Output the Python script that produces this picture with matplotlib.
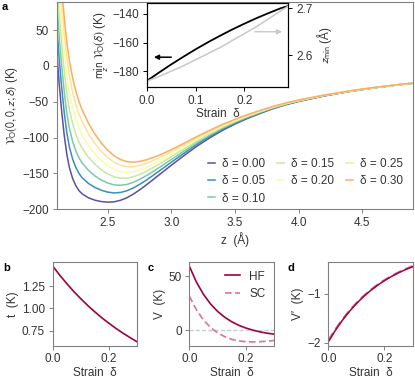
import numpy as np
import matplotlib
matplotlib.use('Agg')
import matplotlib.pyplot as plt

plt.rcParams['font.family'] = ['Liberation Sans', 'DejaVu Sans']
plt.rcParams['mathtext.fontset'] = 'stixsans'
plt.rcParams['font.size'] = 8.5
plt.rcParams['axes.unicode_minus'] = True

W, H = 415, 383

# panel a: potential vs height for several strains
z = [2.10, 2.12, 2.14, 2.16, 2.18, 2.20, 2.225, 2.25, 2.275, 2.30, 2.35, 2.40, 2.45,
     2.50, 2.55, 2.60, 2.65, 2.70, 2.75, 2.80, 2.85, 2.90, 2.95, 3.00, 3.10, 3.20,
     3.30, 3.40, 3.50, 3.60, 3.70, 3.80, 3.90, 4.00, 4.20, 4.40, 4.60, 4.80, 4.90]
v_000 = [21, -26, -65, -98, -124, -142, -157, -167, -174, -178.5, -184, -187.3, -189.2,
         -190, -189.6, -187.5, -184, -179, -173, -166.5, -159.5, -152.5, -145.5, -138.5,
         -125, -112, -100.5, -90, -81, -73, -66, -59.5, -54, -49.5, -41.8, -35.5, -30.3,
         -25.9, -24.0]
v_005 = [57.5, 8.8, -31.8, -66.4, -93.9, -113.3, -129.9, -141.5, -150.0, -155.9, -164.0,
         -169.5, -173.4, -176.0, -177.2, -176.5, -174.2, -170.3, -165.3, -159.7, -153.5,
         -147.1, -140.8, -134.3, -121.7, -109.4, -98.4, -88.4, -79.7, -72.0, -65.2, -58.9,
         -53.5, -49.1, -41.6, -35.4, -30.2, -25.8, -24.0]
v_010 = [90.7, 40.5, -1.7, -37.6, -66.5, -87.2, -105.3, -118.4, -128.2, -135.4, -145.7,
         -153.4, -159.1, -163.3, -165.9, -166.5, -165.4, -162.5, -158.3, -153.5, -148.0,
         -142.3, -136.4, -130.5, -118.7, -107.0, -96.6, -86.9, -78.6, -71.1, -64.5, -58.3,
         -53.1, -48.8, -41.3, -35.2, -30.1, -25.8, -23.9]
v_015 = [123.9, 72.1, 28.5, -8.9, -39.1, -61.0, -80.8, -95.2, -106.4, -114.8, -127.5,
         -137.2, -144.8, -150.6, -154.6, -156.5, -156.5, -154.6, -151.4, -147.3, -142.5,
         -137.4, -132.1, -126.6, -115.7, -104.7, -94.7, -85.5, -77.4, -70.2, -63.8, -57.8,
         -52.6, -48.4, -41.1, -35.1, -30.0, -25.7, -23.9]
v_020 = [153.8, 100.6, 55.6, 17.0, -14.4, -37.5, -58.6, -74.3, -86.7, -96.3, -111.1,
         -122.7, -131.9, -139.2, -144.5, -147.5, -148.5, -147.5, -145.1, -141.7, -137.5,
         -133.0, -128.2, -123.2, -113.0, -102.5, -93.0, -84.1, -76.4, -69.4, -63.1, -57.3,
         -52.2, -48.1, -40.9, -35.0, -30.0, -25.7, -23.8]
v_025 = [183.7, 129.1, 82.8, 42.9, 10.3, -14.0, -36.5, -53.5, -67.1, -77.8, -94.7,
         -108.1, -119.0, -127.7, -134.4, -138.5, -140.5, -140.5, -138.8, -136.2, -132.6,
         -128.6, -124.3, -119.7, -110.2, -100.4, -91.4, -82.8, -75.4, -68.6, -62.5, -56.8,
         -51.8, -47.8, -40.7, -34.8, -29.9, -25.7, -23.8]
v_030 = [210.2, 154.4, 106.9, 65.9, 32.2, 6.9, -16.8, -35.0, -49.7, -61.4, -80.1,
         -95.2, -107.5, -117.5, -125.3, -130.5, -133.4, -134.2, -133.2, -131.2, -128.2,
         -124.8, -120.9, -116.7, -107.8, -98.5, -89.9, -81.6, -74.4, -67.8, -61.9, -56.3,
         -51.5, -47.5, -40.6, -34.7, -29.8, -25.6, -23.8]
strains = ['0.00', '0.05', '0.10', '0.15', '0.20', '0.25', '0.30']
curves = [v_000, v_005, v_010, v_015, v_020, v_025, v_030]

# inset: minimum depth and position vs strain
d_in = [0.0, 0.025, 0.05, 0.075, 0.1, 0.125, 0.15, 0.175, 0.2, 0.225, 0.25, 0.275, 0.29]
vmin_in = [-187.0, -181.1, -175.4, -170.0, -164.8, -159.9, -155.3, -150.9, -146.8,
           -142.9, -139.3, -135.9, -134.4]
zmin_in = [2.544, 2.554, 2.5655, 2.577, 2.590, 2.603, 2.616, 2.631, 2.646, 2.661,
           2.678, 2.695, 2.705]

# panels b-d
d_b = [0.0, 0.025, 0.05, 0.075, 0.1, 0.125, 0.15, 0.175, 0.2, 0.225, 0.25, 0.275, 0.3]
t_hop = [1.475, 1.373, 1.278, 1.189, 1.107, 1.030, 0.959, 0.892, 0.831, 0.773, 0.720,
         0.670, 0.623]
V_hf = [59.3, 44.6, 33.2, 24.3, 17.4, 12.0, 7.8, 4.5, 2.0, 0.0, -1.6, -2.8, -3.7]
V_sc = [31.5, 19.0, 9.5, 2.5, -2.5, -6.0, -8.5, -10.0, -10.7, -10.9, -10.7, -10.2, -9.6]
Vp_hf = [-1.98, -1.745, -1.539, -1.357, -1.197, -1.056, -0.932, -0.823, -0.727, -0.642,
         -0.568, -0.502, -0.444]
Vp_sc = [-1.95, -1.725, -1.522, -1.343, -1.185, -1.045, -0.922, -0.813, -0.717, -0.632,
         -0.557, -0.490, -0.430]

spine_col = '#808080'
text_col = '#333333'
hf_col = '#9e0142'
sc_col = '#d9739b'


def box(l, t, r, b):
    return [l / W, 1 - b / H, (r - l) / W, (b - t) / H]


def style(ax, col=spine_col):
    for s in ax.spines.values():
        s.set_color(col)
        s.set_linewidth(0.8)
    ax.tick_params(direction='out', length=3, width=0.7, color=col,
                   labelcolor=text_col, pad=2.5)


fig = plt.figure(figsize=(W / 100, H / 100), dpi=100)

ax = fig.add_axes(box(56.7, 1.5, 413.3, 209.3))
cols = plt.cm.Spectral_r(np.linspace(0, 0.7, 7))
for v, s, c in zip(curves, strains, cols):
    ax.plot(z, v, color=c, lw=1.1, label='δ = ' + s)
ax.set_xlim(2.1, 4.9)
ax.set_ylim(-200, 90)
ax.set_xticks([2.5, 3.0, 3.5, 4.0, 4.5])
ax.set_yticks([-200, -150, -100, -50, 0, 50])
style(ax)
ax.set_xlabel('z  (Å)', color=text_col, labelpad=2)
ax.set_ylabel(r'$\mathcal{V}_{\mathrm{O}}(0,0,z;\delta)$ (K)', color=text_col, labelpad=2)
ax.legend(ncol=3, loc='lower left', bbox_to_anchor=(0.41, 0.0), frameon=False,
          handlelength=0.6, handletextpad=0.6, columnspacing=1.0, labelspacing=0.45,
          borderaxespad=0, fontsize=8.5, labelcolor=text_col)

# inset
axi = fig.add_axes(box(146.7, 3.3, 288.3, 87.3))
axi.plot(d_in, vmin_in, color='black', lw=1.3)
axi.set_xlim(0, 0.29)
axi.set_ylim(-191.4, -132.5)
axi.set_xticks([0.0, 0.1, 0.2])
axi.set_yticks([-180, -160, -140])
axi.set_xlabel('Strain  δ', color=text_col, labelpad=1)
axi.set_ylabel(r'$\underset{z}{\mathrm{min}}\ \mathcal{V}_{\mathrm{O}}(\delta)$ (K)',
               color=text_col, labelpad=1)
axr = axi.twinx()
axr.plot(d_in, zmin_in, color='#c8c8c8', lw=1.1)
axr.set_ylim(2.531, 2.711)
axr.set_yticks([2.6, 2.7])
axr.set_ylabel(r'$z_{\mathrm{min}}$ (Å)', color=text_col, labelpad=2)
for a in (axi, axr):
    style(a, 'black')
axi.annotate('', xy=(0.009, -170.3), xytext=(0.056, -170.3),
             arrowprops=dict(arrowstyle='-|>', color='black', lw=1.1, mutation_scale=7))
axr.annotate('', xy=(0.283, 2.65), xytext=(0.216, 2.65),
             arrowprops=dict(arrowstyle='-|>', color='#c8c8c8', lw=1.0, mutation_scale=7))

# panel b
axb = fig.add_axes(box(52.7, 262.3, 137.3, 345.7))
axb.plot(d_b, t_hop, color=hf_col, lw=1.2)
axb.set_xlim(0, 0.3)
axb.set_xticks([0.0, 0.2])
axb.set_yticks([0.75, 1.00, 1.25])
axb.set_ylabel('t  (K)', color=text_col, labelpad=2)
style(axb)

# panel c
axc = fig.add_axes(box(189.3, 262.3, 274, 345.7))
axc.axhline(0, color='#cccccc', lw=1.0, ls=(0, (3, 1.5)))
axc.plot(d_b, V_hf, color=hf_col, lw=1.2, label='HF')
axc.plot(d_b, V_sc, color=sc_col, lw=1.2, ls=(0, (4, 2)), label='SC')
axc.set_xlim(0, 0.3)
axc.set_xticks([0.0, 0.2])
axc.set_yticks([0, 50])
axc.set_ylabel('V  (K)', color=text_col, labelpad=2)
axc.legend(loc='upper right', frameon=False, handlelength=1.3, handletextpad=0.8,
           labelspacing=0.5, borderaxespad=0.3, labelcolor=text_col)
style(axc)

# panel d
axd = fig.add_axes(box(328.3, 262.3, 412.5, 345.7))
axd.plot(d_b, Vp_sc, color=sc_col, lw=1.6, ls=(0, (4, 2)))
axd.plot(d_b, Vp_hf, color=hf_col, lw=1.1)
axd.set_xlim(0, 0.3)
axd.set_xticks([0.0, 0.2])
axd.set_yticks([-2, -1])
axd.set_ylabel('V′  (K)', color=text_col, labelpad=2)
style(axd)

for a in (axb, axc, axd):
    a.set_xlabel('Strain  δ', color=text_col, labelpad=1)

for lab, x, y in [('a', 2, 2), ('b', 3, 263), ('c', 148, 263), ('d', 287, 263)]:
    fig.text(x / W, 1 - y / H, lab, fontweight='bold', fontsize=8, va='top', ha='left')

fig.savefig('out.png', dpi=100)
